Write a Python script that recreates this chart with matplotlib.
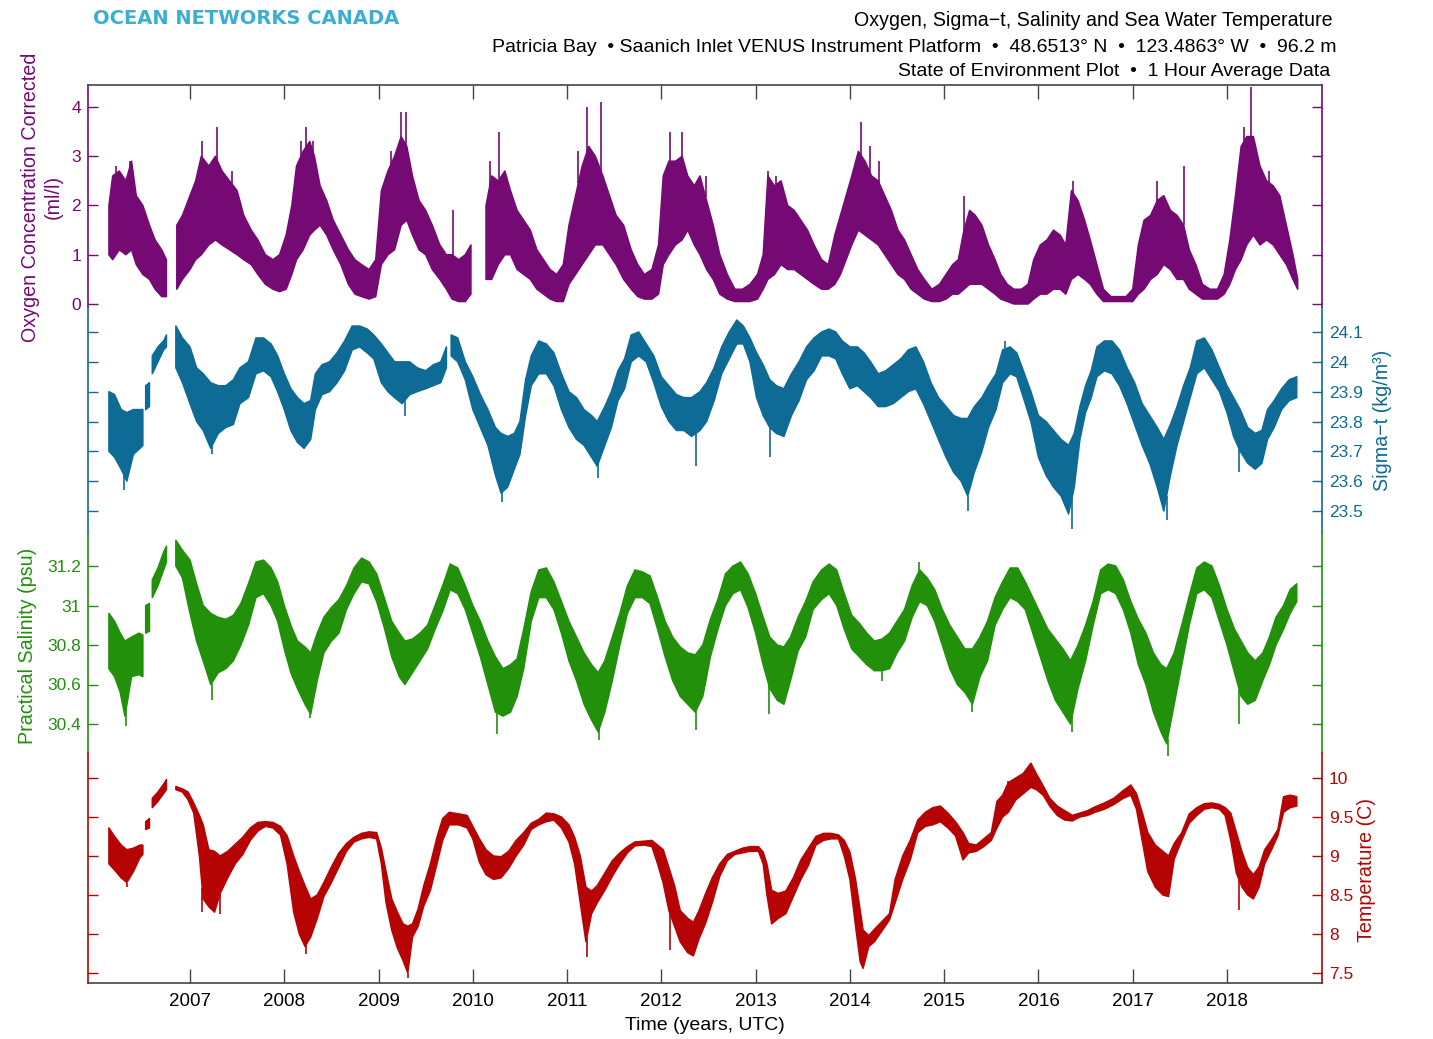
import matplotlib
matplotlib.use("Agg")
import matplotlib.pyplot as plt
from matplotlib.ticker import FormatStrFormatter
import numpy as np

plt.rcParams['font.family'] = ['Liberation Sans', 'DejaVu Sans']
nan = np.nan

# ---------------- data (envelopes: low / high of the hourly trace) -------------
o2_t = [2006.14, 2006.18, 2006.25, 2006.32, 2006.38, 2006.43, 2006.50, 2006.57, 2006.63, 2006.70, 2006.75, 2006.80, 2006.86, 2006.92,
        2007.00, 2007.06, 2007.12, 2007.20, 2007.27, 2007.34, 2007.42, 2007.50, 2007.57, 2007.65, 2007.72, 2007.80, 2007.88, 2007.95,
        2008.02, 2008.08, 2008.13, 2008.20, 2008.27, 2008.32, 2008.38, 2008.45, 2008.52, 2008.60, 2008.68, 2008.75, 2008.82, 2008.90, 2008.97,
        2009.03, 2009.10, 2009.17, 2009.24, 2009.30, 2009.36, 2009.43, 2009.50, 2009.57, 2009.65, 2009.72, 2009.78, 2009.85, 2009.92, 2009.98,
        2010.05, 2010.14, 2010.20, 2010.27, 2010.34, 2010.40, 2010.47, 2010.54, 2010.61, 2010.68, 2010.75, 2010.82, 2010.89, 2010.96,
        2011.02, 2011.09, 2011.16, 2011.23, 2011.30, 2011.38, 2011.45, 2011.52, 2011.60, 2011.68, 2011.75, 2011.82, 2011.90, 2011.97,
        2012.02, 2012.08, 2012.15, 2012.22, 2012.28, 2012.35, 2012.41, 2012.48, 2012.55, 2012.62, 2012.70, 2012.78, 2012.86, 2012.94,
        2013.02, 2013.08, 2013.13, 2013.20, 2013.27, 2013.34, 2013.41, 2013.48, 2013.55, 2013.62, 2013.70, 2013.77, 2013.84, 2013.90, 2013.96,
        2014.02, 2014.09, 2014.16, 2014.23, 2014.30, 2014.37, 2014.44, 2014.51, 2014.58, 2014.65, 2014.72, 2014.79, 2014.87, 2014.95,
        2015.02, 2015.09, 2015.15, 2015.21, 2015.27, 2015.33, 2015.40, 2015.47, 2015.54, 2015.60, 2015.67, 2015.74, 2015.82, 2015.89, 2015.95,
        2016.02, 2016.09, 2016.16, 2016.23, 2016.29, 2016.35, 2016.42, 2016.49, 2016.55, 2016.62, 2016.69, 2016.77, 2016.85, 2016.93,
        2017.00, 2017.06, 2017.12, 2017.19, 2017.26, 2017.33, 2017.40, 2017.47, 2017.54, 2017.60, 2017.67, 2017.74, 2017.82, 2017.90, 2017.97,
        2018.03, 2018.09, 2018.15, 2018.21, 2018.28, 2018.35, 2018.42, 2018.49, 2018.56, 2018.63, 2018.70, 2018.75]
o2_lo = [1.0, 0.9, 1.1, 1.0, 1.1, 0.8, 0.6, 0.5, 0.3, 0.15, 0.15, nan, 0.3, 0.5,
         0.7, 0.9, 1.0, 1.2, 1.3, 1.2, 1.1, 1.0, 0.9, 0.8, 0.6, 0.4, 0.3, 0.25,
         0.3, 0.6, 0.9, 1.1, 1.4, 1.5, 1.6, 1.4, 1.1, 0.8, 0.4, 0.2, 0.15, 0.1, 0.15,
         0.8, 1.0, 1.1, 1.6, 1.7, 1.4, 1.1, 1.0, 0.7, 0.5, 0.3, 0.1, 0.05, 0.05, 0.2,
         nan, 0.5, 0.5, 0.8, 1.0, 1.0, 0.7, 0.6, 0.5, 0.3, 0.2, 0.1, 0.05, 0.05,
         0.4, 0.6, 0.8, 1.0, 1.2, 1.2, 1.0, 0.8, 0.5, 0.3, 0.15, 0.1, 0.1, 0.2,
         0.8, 1.0, 1.2, 1.3, 1.5, 1.2, 1.0, 0.7, 0.5, 0.2, 0.1, 0.05, 0.05, 0.05,
         0.1, 0.3, 0.5, 0.6, 0.8, 0.7, 0.7, 0.6, 0.5, 0.4, 0.3, 0.3, 0.4, 0.6, 0.9,
         1.2, 1.5, 1.4, 1.3, 1.2, 1.0, 0.8, 0.6, 0.5, 0.3, 0.2, 0.1, 0.05, 0.05,
         0.1, 0.2, 0.2, 0.3, 0.4, 0.4, 0.4, 0.3, 0.2, 0.1, 0.05, 0.0, 0.0, 0.0, 0.1,
         0.2, 0.2, 0.3, 0.3, 0.2, 0.5, 0.6, 0.5, 0.4, 0.2, 0.05, 0.05, 0.05, 0.05,
         0.05, 0.2, 0.3, 0.5, 0.6, 0.8, 0.7, 0.5, 0.5, 0.3, 0.2, 0.1, 0.1, 0.1, 0.2,
         0.4, 0.7, 0.9, 1.2, 1.4, 1.2, 1.3, 1.2, 1.0, 0.8, 0.5, 0.3]
o2_hi = [2.0, 2.6, 2.7, 2.5, 2.9, 2.2, 2.0, 1.6, 1.3, 1.1, 0.9, nan, 1.6, 1.8,
         2.2, 2.5, 3.0, 2.8, 3.0, 2.7, 2.5, 2.3, 1.8, 1.5, 1.3, 1.0, 0.9, 1.0,
         1.4, 2.0, 2.8, 3.1, 3.3, 3.0, 2.4, 2.1, 1.7, 1.4, 1.1, 0.9, 0.8, 0.7, 0.9,
         2.3, 2.7, 3.0, 3.4, 3.2, 2.6, 2.1, 1.9, 1.6, 1.2, 1.0, 1.0, 0.9, 1.0, 1.2,
         nan, 2.0, 2.6, 2.5, 2.7, 2.3, 1.9, 1.7, 1.5, 1.1, 0.9, 0.7, 0.6, 0.8,
         1.6, 2.2, 2.8, 3.2, 3.0, 2.6, 2.2, 1.8, 1.6, 1.1, 0.8, 0.6, 0.7, 1.2,
         2.6, 2.9, 2.9, 3.0, 2.6, 2.4, 2.6, 2.1, 1.6, 1.0, 0.6, 0.3, 0.3, 0.4,
         0.6, 1.0, 2.6, 2.4, 2.5, 2.0, 1.9, 1.7, 1.5, 1.2, 0.9, 0.8, 1.4, 1.8, 2.2,
         2.6, 3.1, 2.9, 2.6, 2.5, 2.2, 1.9, 1.5, 1.3, 1.0, 0.7, 0.5, 0.3, 0.4,
         0.6, 0.8, 0.9, 1.5, 1.9, 1.8, 1.6, 1.2, 0.9, 0.6, 0.4, 0.3, 0.3, 0.4, 0.9,
         1.2, 1.3, 1.5, 1.4, 1.2, 2.3, 2.1, 1.7, 1.3, 0.8, 0.3, 0.15, 0.15, 0.15,
         0.3, 1.2, 1.7, 1.8, 2.1, 2.2, 1.9, 1.8, 1.6, 1.1, 0.8, 0.4, 0.3, 0.3, 0.6,
         1.3, 2.2, 3.2, 3.4, 3.4, 2.8, 2.5, 2.4, 2.2, 1.6, 1.0, 0.5]
o2_spike_t = [2006.22, 2006.36, 2007.13, 2007.29, 2007.45, 2008.18, 2008.23, 2008.31, 2009.13, 2009.24, 2009.29, 2009.79,
              2010.18, 2010.28, 2011.12, 2011.21, 2011.36, 2012.09, 2012.22, 2012.47, 2013.13, 2013.22, 2014.12, 2014.21,
              2014.31, 2015.21, 2016.37, 2017.26, 2017.54, 2018.18, 2018.25, 2018.45]
o2_spike_v = [2.8, 2.9, 3.3, 3.6, 2.7, 3.3, 3.6, 3.3, 3.1, 3.9, 3.9, 1.9,
              2.9, 3.5, 3.1, 4.0, 4.1, 3.5, 3.5, 2.6, 2.7, 2.6, 3.7, 3.2,
              2.9, 2.2, 2.5, 2.5, 2.8, 3.6, 4.4, 2.7]

sig_t = [2006.14, 2006.20, 2006.27, 2006.33, 2006.40, 2006.47, 2006.50, 2006.51, 2006.53, 2006.57, 2006.58, 2006.60, 2006.66, 2006.72, 2006.75, 2006.79, 2006.85, 2006.92,
         2007.00, 2007.07, 2007.14, 2007.22, 2007.30, 2007.38, 2007.46, 2007.53, 2007.62, 2007.70, 2007.78, 2007.86, 2007.93,
         2008.00, 2008.07, 2008.14, 2008.21, 2008.28, 2008.33, 2008.40, 2008.48, 2008.56, 2008.64, 2008.72, 2008.80, 2008.88, 2008.95,
         2009.03, 2009.10, 2009.17, 2009.25, 2009.33, 2009.41, 2009.50, 2009.58, 2009.66, 2009.72, 2009.75, 2009.77, 2009.84, 2009.92,
         2010.00, 2010.08, 2010.16, 2010.24, 2010.30, 2010.37, 2010.44, 2010.50, 2010.56, 2010.62, 2010.70, 2010.78, 2010.86, 2010.94,
         2011.02, 2011.10, 2011.18, 2011.26, 2011.32, 2011.40, 2011.47, 2011.54, 2011.61, 2011.68, 2011.76, 2011.84, 2011.92,
         2012.00, 2012.08, 2012.16, 2012.24, 2012.32, 2012.41, 2012.48, 2012.56, 2012.64, 2012.72, 2012.80, 2012.87, 2012.94,
         2013.01, 2013.08, 2013.15, 2013.22, 2013.30, 2013.38, 2013.46, 2013.54, 2013.62, 2013.70, 2013.78, 2013.85, 2013.92,
         2014.00, 2014.08, 2014.15, 2014.22, 2014.30, 2014.38, 2014.46, 2014.54, 2014.62, 2014.70, 2014.78, 2014.86, 2014.94,
         2015.02, 2015.10, 2015.18, 2015.25, 2015.32, 2015.40, 2015.47, 2015.55, 2015.62, 2015.70, 2015.77, 2015.84, 2015.92,
         2016.00, 2016.08, 2016.16, 2016.24, 2016.32, 2016.38, 2016.44, 2016.50, 2016.56, 2016.62, 2016.70, 2016.78, 2016.86, 2016.94,
         2017.02, 2017.10, 2017.18, 2017.26, 2017.33, 2017.40, 2017.47, 2017.54, 2017.61, 2017.68, 2017.76, 2017.84, 2017.92,
         2018.00, 2018.07, 2018.14, 2018.22, 2018.30, 2018.37, 2018.43, 2018.50, 2018.58, 2018.66, 2018.74]
sig_lo = [23.70, 23.68, 23.64, 23.60, 23.69, 23.71, 23.72, nan, 23.84, 23.85, nan, 23.96, 24.00, 24.04, 24.05, nan, 23.98, 23.93,
          23.86, 23.80, 23.77, 23.71, 23.76, 23.78, 23.79, 23.86, 23.88, 23.96, 23.97, 23.95, 23.90,
          23.84, 23.77, 23.73, 23.71, 23.74, 23.84, 23.89, 23.90, 23.93, 23.97, 24.04, 24.05, 24.03, 24.01,
          23.93, 23.90, 23.88, 23.86, 23.89, 23.90, 23.91, 23.92, 23.93, 23.98, nan, 24.02, 24.00, 23.94,
          23.84, 23.78, 23.72, 23.62, 23.56, 23.58, 23.64, 23.69, 23.82, 23.92, 23.96, 23.96, 23.92, 23.84,
          23.78, 23.74, 23.72, 23.68, 23.65, 23.72, 23.78, 23.87, 23.91, 24.00, 24.02, 24.00, 23.93,
          23.85, 23.80, 23.77, 23.77, 23.75, 23.77, 23.80, 23.87, 23.96, 24.01, 24.06, 24.06, 24.00,
          23.88, 23.82, 23.78, 23.76, 23.75, 23.82, 23.87, 23.94, 23.97, 24.02, 24.02, 24.01, 23.96,
          23.91, 23.92, 23.90, 23.88, 23.85, 23.85, 23.86, 23.88, 23.90, 23.91, 23.86, 23.80, 23.74,
          23.68, 23.63, 23.60, 23.55, 23.63, 23.70, 23.78, 23.84, 23.93, 23.96, 23.95, 23.88, 23.80,
          23.68, 23.62, 23.58, 23.55, 23.49, 23.58, 23.74, 23.83, 23.88, 23.95, 23.97, 23.96, 23.92, 23.86,
          23.79, 23.72, 23.66, 23.58, 23.50, 23.62, 23.72, 23.80, 23.88, 23.96, 23.98, 23.94, 23.90,
          23.83, 23.75, 23.70, 23.66, 23.64, 23.66, 23.74, 23.78, 23.84, 23.87, 23.88]
sig_hi = [23.90, 23.89, 23.84, 23.83, 23.84, 23.84, 23.84, nan, 23.92, 23.93, nan, 24.02, 24.05, 24.07, 24.09, nan, 24.12, 24.08,
          24.05, 23.98, 23.96, 23.93, 23.92, 23.92, 23.94, 23.98, 24.00, 24.08, 24.08, 24.06, 24.02,
          23.96, 23.91, 23.88, 23.86, 23.87, 23.96, 23.99, 24.00, 24.03, 24.07, 24.12, 24.12, 24.11, 24.09,
          24.06, 24.03, 24.00, 24.00, 24.00, 23.98, 23.97, 23.99, 24.00, 24.05, nan, 24.09, 24.08, 24.00,
          23.95, 23.89, 23.84, 23.78, 23.76, 23.75, 23.76, 23.80, 23.94, 24.02, 24.07, 24.06, 24.03, 23.96,
          23.90, 23.88, 23.84, 23.82, 23.80, 23.85, 23.90, 23.97, 24.01, 24.09, 24.10, 24.06, 24.02,
          23.95, 23.92, 23.89, 23.88, 23.88, 23.90, 23.93, 23.98, 24.05, 24.10, 24.14, 24.12, 24.08,
          24.03, 23.99, 23.94, 23.92, 23.91, 23.96, 24.00, 24.05, 24.08, 24.10, 24.11, 24.10, 24.07,
          24.05, 24.05, 24.03, 24.00, 23.96, 23.97, 23.99, 24.01, 24.04, 24.05, 24.00, 23.93, 23.88,
          23.85, 23.82, 23.81, 23.81, 23.85, 23.88, 23.92, 23.96, 24.04, 24.05, 24.03, 23.97, 23.90,
          23.82, 23.80, 23.77, 23.74, 23.72, 23.76, 23.85, 23.92, 23.97, 24.05, 24.07, 24.07, 24.04, 23.98,
          23.93, 23.86, 23.82, 23.78, 23.74, 23.79, 23.85, 23.92, 23.98, 24.07, 24.08, 24.04, 23.98,
          23.92, 23.88, 23.84, 23.78, 23.76, 23.77, 23.84, 23.87, 23.91, 23.94, 23.95]
sig_spike_t = [2006.30, 2007.23, 2009.28, 2010.31, 2011.33, 2012.37, 2013.15, 2015.25, 2015.65, 2016.36, 2017.36, 2018.13]
sig_spike_v = [23.57, 23.69, 23.82, 23.53, 23.61, 23.65, 23.68, 23.50, 24.07, 23.44, 23.47, 23.63]

sal_t = [2006.14, 2006.20, 2006.26, 2006.31, 2006.38, 2006.46, 2006.50, 2006.51, 2006.53, 2006.57, 2006.58, 2006.60, 2006.66, 2006.72, 2006.75, 2006.79, 2006.85, 2006.92,
         2007.00, 2007.07, 2007.14, 2007.22, 2007.30, 2007.38, 2007.46, 2007.54, 2007.62, 2007.70, 2007.78, 2007.86, 2007.93,
         2008.00, 2008.07, 2008.14, 2008.22, 2008.28, 2008.35, 2008.42, 2008.50, 2008.58, 2008.66, 2008.74, 2008.82, 2008.90, 2008.98,
         2009.06, 2009.14, 2009.22, 2009.28, 2009.36, 2009.44, 2009.52, 2009.60, 2009.68, 2009.76, 2009.84, 2009.92,
         2010.00, 2010.08, 2010.16, 2010.24, 2010.32, 2010.40, 2010.47, 2010.54, 2010.62, 2010.70, 2010.78, 2010.86, 2010.94,
         2011.02, 2011.10, 2011.18, 2011.26, 2011.33, 2011.40, 2011.48, 2011.56, 2011.64, 2011.72, 2011.80, 2011.88, 2011.96,
         2012.04, 2012.12, 2012.20, 2012.28, 2012.36, 2012.44, 2012.52, 2012.60, 2012.68, 2012.76, 2012.84, 2012.92,
         2013.00, 2013.08, 2013.15, 2013.23, 2013.30, 2013.37, 2013.45, 2013.53, 2013.61, 2013.70, 2013.78, 2013.86, 2013.94,
         2014.02, 2014.10, 2014.18, 2014.26, 2014.34, 2014.42, 2014.50, 2014.58, 2014.66, 2014.74, 2014.82, 2014.90, 2014.98,
         2015.06, 2015.14, 2015.22, 2015.30, 2015.38, 2015.46, 2015.54, 2015.62, 2015.70, 2015.78, 2015.86, 2015.94,
         2016.02, 2016.10, 2016.18, 2016.26, 2016.34, 2016.42, 2016.50, 2016.58, 2016.66, 2016.74, 2016.82, 2016.90, 2016.98,
         2017.06, 2017.14, 2017.22, 2017.30, 2017.36, 2017.44, 2017.52, 2017.60, 2017.68, 2017.76, 2017.84, 2017.92,
         2018.00, 2018.08, 2018.15, 2018.22, 2018.30, 2018.38, 2018.45, 2018.52, 2018.60, 2018.67, 2018.74]
sal_lo = [30.68, 30.64, 30.56, 30.44, 30.64, 30.65, 30.64, nan, 30.86, 30.87, nan, 31.04, 31.10, 31.18, 31.22, nan, 31.20, 31.14,
          30.96, 30.82, 30.72, 30.60, 30.66, 30.68, 30.72, 30.80, 30.90, 31.04, 31.06, 31.00, 30.92,
          30.78, 30.66, 30.58, 30.50, 30.45, 30.62, 30.76, 30.82, 30.86, 30.98, 31.06, 31.12, 31.11, 31.02,
          30.89, 30.74, 30.64, 30.60, 30.66, 30.72, 30.78, 30.88, 30.97, 31.08, 31.06, 30.98,
          30.86, 30.74, 30.60, 30.46, 30.44, 30.46, 30.54, 30.68, 30.92, 31.04, 31.04, 30.98, 30.86,
          30.72, 30.62, 30.50, 30.42, 30.36, 30.46, 30.62, 30.80, 30.96, 31.04, 31.04, 31.01, 30.88,
          30.74, 30.62, 30.54, 30.50, 30.46, 30.54, 30.74, 30.88, 31.00, 31.06, 31.08, 30.99,
          30.86, 30.70, 30.58, 30.52, 30.50, 30.62, 30.77, 30.84, 30.98, 31.03, 31.06, 31.00, 30.88,
          30.78, 30.74, 30.70, 30.67, 30.67, 30.68, 30.76, 30.82, 30.94, 31.02, 31.00, 30.92, 30.80,
          30.68, 30.60, 30.56, 30.50, 30.64, 30.72, 30.90, 30.98, 31.04, 31.02, 30.98, 30.86,
          30.74, 30.62, 30.52, 30.46, 30.40, 30.58, 30.72, 30.90, 31.06, 31.08, 31.06, 30.98, 30.86,
          30.70, 30.60, 30.46, 30.36, 30.30, 30.50, 30.70, 30.90, 31.06, 31.08, 31.04, 30.92,
          30.80, 30.66, 30.54, 30.50, 30.52, 30.62, 30.70, 30.80, 30.88, 30.96, 31.02]
sal_hi = [30.96, 30.92, 30.86, 30.82, 30.84, 30.86, 30.85, nan, 31.00, 31.01, nan, 31.13, 31.19, 31.27, 31.30, nan, 31.33, 31.28,
          31.23, 31.11, 31.00, 30.96, 30.94, 30.93, 30.95, 31.01, 31.11, 31.22, 31.23, 31.19, 31.12,
          31.00, 30.90, 30.82, 30.79, 30.76, 30.86, 30.94, 30.99, 31.03, 31.10, 31.19, 31.24, 31.22, 31.16,
          31.04, 30.92, 30.86, 30.82, 30.83, 30.86, 30.90, 31.00, 31.10, 31.21, 31.19, 31.10,
          31.00, 30.92, 30.82, 30.74, 30.68, 30.70, 30.73, 30.88, 31.07, 31.18, 31.19, 31.12, 31.02,
          30.92, 30.84, 30.76, 30.70, 30.66, 30.72, 30.84, 30.96, 31.10, 31.18, 31.17, 31.15, 31.04,
          30.92, 30.84, 30.79, 30.76, 30.75, 30.80, 30.93, 31.03, 31.16, 31.20, 31.22, 31.16,
          31.06, 30.94, 30.84, 30.80, 30.79, 30.84, 30.94, 31.02, 31.12, 31.18, 31.21, 31.18, 31.06,
          30.95, 30.91, 30.86, 30.82, 30.83, 30.86, 30.92, 30.98, 31.10, 31.18, 31.14, 31.08, 30.98,
          30.90, 30.84, 30.78, 30.78, 30.84, 30.92, 31.04, 31.12, 31.19, 31.19, 31.12, 31.04,
          30.96, 30.88, 30.83, 30.78, 30.72, 30.80, 30.90, 31.02, 31.18, 31.21, 31.20, 31.13, 31.02,
          30.93, 30.86, 30.76, 30.70, 30.68, 30.76, 30.90, 31.05, 31.19, 31.22, 31.20, 31.10,
          30.98, 30.88, 30.82, 30.76, 30.72, 30.76, 30.84, 30.94, 31.00, 31.08, 31.11]
sal_spike_t = [2006.32, 2007.23, 2008.27, 2010.26, 2011.34, 2012.37, 2013.14, 2014.34, 2014.73, 2015.30, 2016.36, 2017.37, 2018.13]
sal_spike_v = [30.39, 30.52, 30.43, 30.35, 30.32, 30.37, 30.45, 30.62, 31.22, 30.46, 30.36, 30.24, 30.40]

tmp_t = [2006.14, 2006.20, 2006.27, 2006.33, 2006.40, 2006.47, 2006.50, 2006.51, 2006.53, 2006.57, 2006.58, 2006.60, 2006.66, 2006.72, 2006.75, 2006.79, 2006.85, 2006.92, 2006.98,
         2007.04, 2007.10, 2007.14, 2007.20, 2007.26, 2007.32, 2007.40, 2007.48, 2007.56, 2007.64, 2007.72, 2007.80, 2007.88, 2007.96,
         2008.03, 2008.10, 2008.16, 2008.22, 2008.28, 2008.35, 2008.42, 2008.50, 2008.58, 2008.66, 2008.74, 2008.82, 2008.90, 2008.98,
         2009.03, 2009.08, 2009.14, 2009.20, 2009.26, 2009.31, 2009.36, 2009.42, 2009.48, 2009.55, 2009.62, 2009.68, 2009.75, 2009.85, 2009.94,
         2010.00, 2010.07, 2010.14, 2010.22, 2010.30, 2010.38, 2010.46, 2010.54, 2010.62, 2010.70, 2010.78, 2010.86, 2010.94,
         2011.02, 2011.08, 2011.14, 2011.20, 2011.26, 2011.32, 2011.40, 2011.48, 2011.56, 2011.64, 2011.72, 2011.82, 2011.90, 2011.96,
         2012.02, 2012.08, 2012.14, 2012.20, 2012.28, 2012.34, 2012.40, 2012.47, 2012.54, 2012.62, 2012.70, 2012.78, 2012.86, 2012.94,
         2013.03, 2013.08, 2013.12, 2013.17, 2013.24, 2013.32, 2013.40, 2013.48, 2013.56, 2013.64, 2013.72, 2013.80, 2013.88, 2013.94,
         2014.00, 2014.06, 2014.11, 2014.14, 2014.20, 2014.26, 2014.34, 2014.42, 2014.48, 2014.56, 2014.64, 2014.72, 2014.80, 2014.88, 2014.96,
         2015.04, 2015.12, 2015.20, 2015.26, 2015.34, 2015.42, 2015.50, 2015.56, 2015.62, 2015.68, 2015.76, 2015.84, 2015.92, 2015.98,
         2016.05, 2016.12, 2016.20, 2016.28, 2016.36, 2016.44, 2016.52, 2016.60, 2016.70, 2016.80, 2016.90, 2016.98,
         2017.04, 2017.10, 2017.16, 2017.24, 2017.32, 2017.38, 2017.44, 2017.52, 2017.60, 2017.68, 2017.76, 2017.84, 2017.92, 2017.98,
         2018.04, 2018.10, 2018.16, 2018.22, 2018.28, 2018.34, 2018.40, 2018.48, 2018.54, 2018.60, 2018.67, 2018.74]
tmp_lo = [8.90, 8.82, 8.72, 8.66, 8.80, 8.98, 9.02, nan, 9.34, 9.36, nan, 9.62, 9.70, 9.80, 9.85, nan, 9.85, 9.82, 9.72,
          9.55, 9.00, 8.45, 8.35, 8.28, 8.52, 8.72, 8.90, 9.02, 9.20, 9.32, 9.38, 9.36, 9.27,
          8.90, 8.28, 8.00, 7.84, 7.96, 8.20, 8.48, 8.66, 8.86, 9.06, 9.18, 9.22, 9.24, 9.22,
          8.90, 8.40, 8.05, 7.82, 7.66, 7.50, 7.96, 8.10, 8.36, 8.56, 8.90, 9.20, 9.40, 9.40, 9.36,
          9.22, 8.92, 8.76, 8.70, 8.72, 8.84, 9.00, 9.14, 9.34, 9.40, 9.44, 9.46, 9.36,
          9.18, 8.90, 8.40, 7.90, 8.26, 8.40, 8.56, 8.74, 8.90, 9.04, 9.13, 9.14, 9.12, 8.90,
          8.65, 8.30, 8.10, 7.90, 7.76, 7.72, 7.94, 8.14, 8.40, 8.74, 8.94, 9.02, 9.04, 9.06,
          9.06, 8.90, 8.50, 8.13, 8.20, 8.26, 8.48, 8.70, 8.88, 9.14, 9.20, 9.22, 9.22, 9.00,
          8.70, 8.10, 7.64, 7.56, 7.84, 7.90, 8.04, 8.18, 8.40, 8.70, 8.95, 9.30, 9.38, 9.40, 9.44,
          9.36, 9.26, 8.95, 9.04, 9.06, 9.12, 9.20, 9.36, 9.50, 9.56, 9.72, 9.80, 9.88, 9.85,
          9.78, 9.64, 9.52, 9.46, 9.45, 9.50, 9.52, 9.56, 9.60, 9.66, 9.74, 9.78,
          9.60, 9.20, 8.80, 8.60, 8.50, 8.48, 8.96, 9.20, 9.42, 9.52, 9.60, 9.62, 9.60, 9.52,
          9.20, 8.78, 8.60, 8.50, 8.45, 8.60, 8.90, 9.10, 9.26, 9.56, 9.62, 9.64]
tmp_hi = [9.36, 9.25, 9.14, 9.08, 9.10, 9.14, 9.14, nan, 9.44, 9.48, nan, 9.74, 9.82, 9.92, 9.98, nan, 9.89, 9.86, 9.82,
          9.68, 9.52, 9.40, 9.08, 9.06, 9.00, 9.06, 9.15, 9.24, 9.36, 9.43, 9.44, 9.43, 9.38,
          9.26, 9.00, 8.80, 8.62, 8.45, 8.50, 8.66, 8.86, 9.04, 9.16, 9.24, 9.29, 9.31, 9.30,
          9.10, 8.80, 8.45, 8.28, 8.13, 8.10, 8.13, 8.32, 8.62, 8.90, 9.24, 9.48, 9.56, 9.54, 9.52,
          9.38, 9.22, 9.08, 9.00, 8.99, 9.06, 9.20, 9.30, 9.42, 9.47, 9.55, 9.54, 9.50,
          9.40, 9.24, 9.00, 8.60, 8.55, 8.62, 8.78, 8.94, 9.04, 9.12, 9.18, 9.19, 9.20, 9.14,
          9.08, 8.85, 8.62, 8.30, 8.20, 8.15, 8.30, 8.52, 8.72, 8.90, 9.02, 9.06, 9.10, 9.12,
          9.12, 9.05, 8.90, 8.56, 8.52, 8.55, 8.72, 8.95, 9.10, 9.25, 9.29, 9.29, 9.27, 9.20,
          9.05, 8.70, 8.30, 8.05, 7.98, 8.06, 8.16, 8.26, 8.70, 9.00, 9.20, 9.46, 9.56, 9.62, 9.64,
          9.55, 9.44, 9.30, 9.16, 9.14, 9.22, 9.30, 9.70, 9.78, 9.94, 10.00, 10.06, 10.19, 10.05,
          9.90, 9.74, 9.64, 9.58, 9.52, 9.55, 9.58, 9.63, 9.68, 9.74, 9.84, 9.91,
          9.80, 9.56, 9.30, 9.14, 9.06, 9.00, 9.16, 9.30, 9.54, 9.62, 9.67, 9.68, 9.66, 9.62,
          9.55, 9.30, 9.05, 8.85, 8.76, 8.86, 9.08, 9.22, 9.34, 9.76, 9.78, 9.76]
tmp_spike_t = [2006.33, 2007.13, 2007.32, 2008.23, 2009.31, 2011.21, 2012.09, 2015.68, 2018.13]
tmp_spike_v = [8.60, 8.28, 8.26, 7.75, 7.43, 7.71, 7.80, 9.96, 8.31]

years = list(range(2007, 2019))
o2_ticks = [0, 1, 2, 3, 4]
sig_ticks = [23.5, 23.6, 23.7, 23.8, 23.9, 24.0, 24.1]
sal_ticks = [30.4, 30.6, 30.8, 31.0, 31.2]
tmp_ticks = [7.5, 8.0, 8.5, 9.0, 9.5, 10.0]

PURPLE = '#750a75'
BLUE = '#0e6b95'
GREEN = '#22900b'
RED = '#b60404'

# ---------------- layout (pixel based, figure is 1433 x 1039) ----------------
W, H = 1433, 1039
fig = plt.figure(figsize=(W / 100, H / 100), dpi=100)
fig.patch.set_facecolor('white')


def fx(px):
    return px / W


def fy(py):
    return 1 - py / H


AX_L, AX_R, AX_T, AX_B = 88, 1322, 85, 983
rect = [fx(AX_L), fy(AX_B), fx(AX_R) - fx(AX_L), fy(AX_T) - fy(AX_B)]
XLIM = (2007 - (190 - AX_L) / 94.27, 2018 + (AX_R - 1227) / 94.27)


def val_at(px, ref):
    v1, p1, v2, p2 = ref
    return v1 + (px - p1) * (v2 - v1) / (p2 - p1)


panels = [
    (o2_t, o2_lo, o2_hi, o2_spike_t, o2_spike_v, PURPLE, (0, 304, 4, 107), o2_ticks, 'left', (307, AX_T)),
    (sig_t, sig_lo, sig_hi, sig_spike_t, sig_spike_v, BLUE, (24.1, 332, 23.5, 511), sig_ticks, 'right', (532, 307)),
    (sal_t, sal_lo, sal_hi, sal_spike_t, sal_spike_v, GREEN, (31.2, 566, 30.4, 724), sal_ticks, 'left', (753, 532)),
    (tmp_t, tmp_lo, tmp_hi, tmp_spike_t, tmp_spike_v, RED, (10, 778, 7.5, 973), tmp_ticks, 'right', (AX_B, 753)),
]

for i, (t, lo, hi, st, sv, c, ref, ticks, side, seg) in enumerate(panels):
    ax = fig.add_axes(rect, facecolor='none')
    ax.set_xlim(*XLIM)
    ax.set_ylim(val_at(AX_B, ref), val_at(AX_T, ref))

    t = np.array(t)
    lo = np.array(lo)
    hi = np.array(hi)
    ax.fill_between(t, lo, hi, color=c, lw=1.1, edgecolor=c)

    ok = ~np.isnan(lo)
    st = np.array(st)
    sv = np.array(sv)
    hi_i = np.interp(st, t[ok], hi[ok])
    lo_i = np.interp(st, t[ok], lo[ok])
    base = np.where(sv > hi_i, hi_i, lo_i)
    ax.vlines(st, base, sv, color=c, lw=1.2)

    # spines: coloured segment on both sides, box only once
    for s in ('left', 'right'):
        ax.spines[s].set_color(c)
        ax.spines[s].set_linewidth(1.2)
        ax.spines[s].set_bounds(val_at(seg[0], ref), val_at(seg[1], ref))
    ax.spines['top'].set_visible(i == 0)
    ax.spines['bottom'].set_visible(i == 0)

    ax.set_yticks(ticks)
    ax.yaxis.set_major_formatter(FormatStrFormatter('%g'))
    ax.tick_params(axis='y', direction='in', left=True, right=True,
                   labelleft=(side == 'left'), labelright=(side == 'right'),
                   color=c, labelcolor=c, length=7, width=1, labelsize=12.5, pad=5)

    if i == 0:
        for s in ('top', 'bottom'):
            ax.spines[s].set_color('#444444')
            ax.spines[s].set_linewidth(1.2)
        ax.set_xticks(years)
        ax.tick_params(axis='x', direction='in', top=True, bottom=True,
                       length=10, width=1, color='#444444', labelsize=13.5, pad=7)
    else:
        ax.tick_params(axis='x', top=False, bottom=False, labelbottom=False)

# ---------------- labels and titles ----------------
fig.text(fx(42), fy(197), 'Oxygen Concentration Corrected\n(ml/l)', rotation=90,
         ha='center', va='center', color=PURPLE, fontsize=14.2, linespacing=1.2)
fig.text(fx(28), fy(646), 'Practical Salinity (psu)', rotation=90,
         ha='center', va='center', color=GREEN, fontsize=14.2)
fig.text(fx(1383), fy(420), 'Sigma\u2212t (kg/m\u00b3)', rotation=90,
         ha='center', va='center', color=BLUE, fontsize=14.2)
fig.text(fx(1367), fy(870), 'Temperature (C)', rotation=90,
         ha='center', va='center', color=RED, fontsize=14.2)
fig.text(fx(705), fy(1025), 'Time (years, UTC)', ha='center', va='center', fontsize=14)

fig.text(fx(1332), fy(20), 'Oxygen, Sigma\u2212t, Salinity and Sea Water Temperature',
         ha='right', va='center', fontsize=14.1)
fig.text(fx(1336), fy(47), 'Patricia Bay  \u2022 Saanich Inlet VENUS Instrument Platform  \u2022  48.6513\u00b0 N  \u2022  '
         '123.4863\u00b0 W  \u2022  96.2 m', ha='right', va='center', fontsize=14)
fig.text(fx(1330), fy(72), 'State of Environment Plot  \u2022  1 Hour Average Data',
         ha='right', va='center', fontsize=14)

fig.text(fx(93), fy(18), 'OCEAN NETWORKS CANADA', ha='left', va='center',
         fontsize=14, fontweight='bold', color='#3caed6', family='DejaVu Sans')

fig.savefig('out.png', dpi=100)
